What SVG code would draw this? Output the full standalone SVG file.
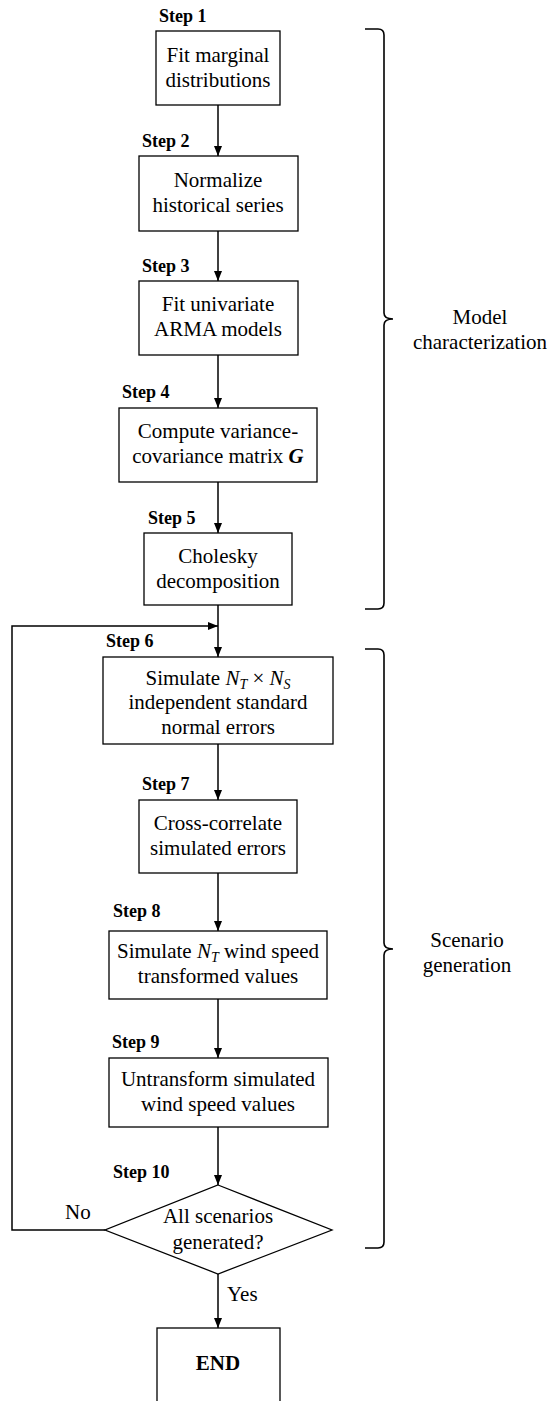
<svg xmlns="http://www.w3.org/2000/svg" width="551" height="1401" viewBox="0 0 551 1401" font-family="Liberation Serif, Tinos, Times New Roman, Times, DejaVu Serif, serif">
  <style>
    .box { fill: #ffffff; stroke: #000000; stroke-width: 1.3; }
    .txt { font-family: 'Liberation Serif', Tinos, 'Times New Roman', Times, 'DejaVu Serif', serif; font-size: 21px; fill: #000000; text-anchor: middle; }
    .step { font-family: 'Liberation Serif', Tinos, 'Times New Roman', Times, 'DejaVu Serif', serif; font-size: 18px; font-weight: bold; fill: #000000; }
    .lbl { font-family: 'Liberation Serif', Tinos, 'Times New Roman', Times, 'DejaVu Serif', serif; font-size: 21px; fill: #000000; }
    .edge { fill: none; stroke: #000000; stroke-width: 1.5; }
    .brace { fill: none; stroke: #000000; stroke-width: 1.6; }
    .it { font-style: italic; }
    .sub { font-size: 14px; font-style: italic; }
  </style>
  <defs>
    <marker id="arrow" viewBox="0 0 10 10" refX="10" refY="5" markerWidth="10" markerHeight="10" markerUnits="userSpaceOnUse" orient="auto">
      <path d="M0,1 L10,5 L0,9 Z" fill="#000000"/>
    </marker>
  </defs>

  <!-- connectors -->
  <g id="connectors">
    <line class="edge" x1="218" y1="105" x2="218" y2="156" marker-end="url(#arrow)"/>
    <line class="edge" x1="218" y1="231" x2="218" y2="281" marker-end="url(#arrow)"/>
    <line class="edge" x1="218" y1="355" x2="218" y2="408" marker-end="url(#arrow)"/>
    <line class="edge" x1="218" y1="482" x2="218" y2="533" marker-end="url(#arrow)"/>
    <line class="edge" x1="218" y1="605" x2="218" y2="657" marker-end="url(#arrow)"/>
    <line class="edge" x1="218" y1="744" x2="218" y2="800" marker-end="url(#arrow)"/>
    <line class="edge" x1="218" y1="873" x2="218" y2="931" marker-end="url(#arrow)"/>
    <line class="edge" x1="218" y1="999" x2="218" y2="1058" marker-end="url(#arrow)"/>
    <line class="edge" x1="218" y1="1127" x2="218" y2="1185" marker-end="url(#arrow)"/>
    <line class="edge" x1="218" y1="1274" x2="218" y2="1328" marker-end="url(#arrow)"/>
    <!-- loop back when scenarios remain -->
    <polyline class="edge" points="105,1230 12,1230 12,626 218,626" marker-end="url(#arrow)"/>
    <text class="lbl" x="65" y="1219">No</text>
    <text class="lbl" x="227" y="1301">Yes</text>
  </g>

  <g id="step1">
    <text class="step" x="159" y="22">Step 1</text>
    <rect class="box" x="156" y="31" width="124" height="74"/>
    <text class="txt" x="218" y="62">Fit marginal</text>
    <text class="txt" x="218" y="87">distributions</text>
  </g>

  <g id="step2">
    <text class="step" x="142" y="147">Step 2</text>
    <rect class="box" x="139" y="156" width="159" height="75"/>
    <text class="txt" x="218" y="187">Normalize</text>
    <text class="txt" x="218" y="212">historical series</text>
  </g>

  <g id="step3">
    <text class="step" x="142" y="272">Step 3</text>
    <rect class="box" x="139" y="281" width="159" height="74"/>
    <text class="txt" x="218" y="311">Fit univariate</text>
    <text class="txt" x="218" y="336">ARMA models</text>
  </g>

  <g id="step4">
    <text class="step" x="122" y="398">Step 4</text>
    <rect class="box" x="119" y="408" width="198" height="74"/>
    <text class="txt" x="218" y="438">Compute variance-</text>
    <text class="txt" x="218" y="463">covariance matrix <tspan font-weight="bold" font-style="italic">G</tspan></text>
  </g>

  <g id="step5">
    <text class="step" x="148" y="524">Step 5</text>
    <rect class="box" x="144" y="533" width="148" height="72"/>
    <text class="txt" x="218" y="563">Cholesky</text>
    <text class="txt" x="218" y="588">decomposition</text>
  </g>

  <g id="step6">
    <text class="step" x="106" y="647">Step 6</text>
    <rect class="box" x="103" y="657" width="230" height="87"/>
    <text class="txt" x="218" y="685">Simulate <tspan class="it">N</tspan><tspan class="sub" dy="4">T</tspan><tspan dy="-4"> × </tspan><tspan class="it">N</tspan><tspan class="sub" dy="4">S</tspan></text>
    <text class="txt" x="218" y="709">independent standard</text>
    <text class="txt" x="218" y="734">normal errors</text>
  </g>

  <g id="step7">
    <text class="step" x="142" y="790">Step 7</text>
    <rect class="box" x="139" y="800" width="158" height="73"/>
    <text class="txt" x="218" y="830">Cross-correlate</text>
    <text class="txt" x="218" y="855">simulated errors</text>
  </g>

  <g id="step8">
    <text class="step" x="113" y="917">Step 8</text>
    <rect class="box" x="109" y="931" width="218" height="68"/>
    <text class="txt" x="218" y="958">Simulate <tspan class="it">N</tspan><tspan class="sub" dy="4">T</tspan><tspan dy="-4"> wind speed</tspan></text>
    <text class="txt" x="218" y="983">transformed values</text>
  </g>

  <g id="step9">
    <text class="step" x="112" y="1048">Step 9</text>
    <rect class="box" x="109" y="1058" width="219" height="69"/>
    <text class="txt" x="218" y="1086">Untransform simulated</text>
    <text class="txt" x="218" y="1111">wind speed values</text>
  </g>

  <g id="step10">
    <text class="step" x="113" y="1178">Step 10</text>
    <polygon class="box" points="218,1185 332,1230 218,1274 105,1230"/>
    <text class="txt" x="218" y="1223">All scenarios</text>
    <text class="txt" x="218" y="1249">generated?</text>
  </g>

  <g id="end">
    <rect class="box" x="157" y="1328" width="123" height="80"/>
    <text class="txt" x="218" y="1370" font-weight="bold">END</text>
  </g>

  <g id="model-characterization">
    <path class="brace" d="M365,29 H378 Q384,29 384,35 V313 Q384,319 393,319 Q384,319 384,325 V603 Q384,609 378,609 H365"/>
    <text class="txt" x="480" y="324">Model</text>
    <text class="txt" x="480" y="349">characterization</text>
  </g>

  <g id="scenario-generation">
    <path class="brace" d="M365,649 H378 Q384,649 384,655 V943 Q384,949 393,949 Q384,949 384,955 V1242 Q384,1248 378,1248 H365"/>
    <text class="txt" x="467" y="947">Scenario</text>
    <text class="txt" x="467" y="972">generation</text>
  </g>
</svg>
